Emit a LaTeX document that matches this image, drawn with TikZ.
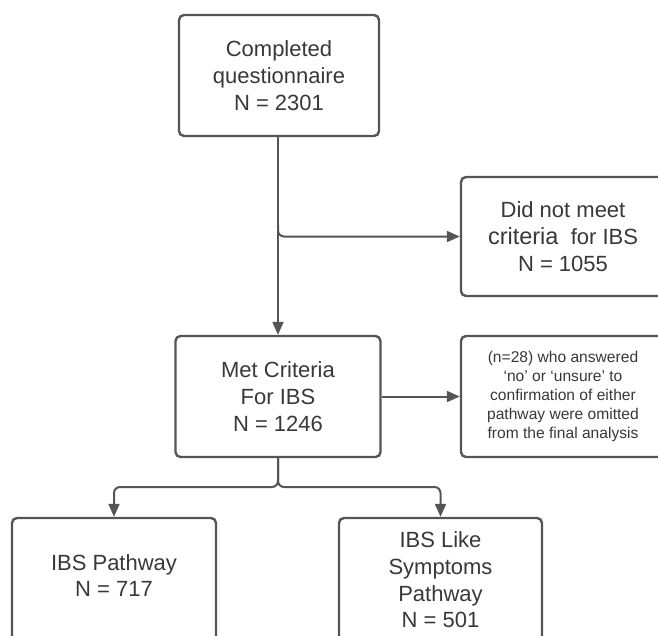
\documentclass[tikz,border=0pt]{standalone}
\usepackage{fontspec}
\setmainfont{Liberation Sans}
\usetikzlibrary{arrows.meta}
\definecolor{ln}{HTML}{555555}
\definecolor{tx}{HTML}{383838}
\begin{document}
\begin{tikzpicture}[x=1pt,y=-1pt,
  box/.style={draw=ln, line width=2.4pt, rounded corners=5pt, text=tx, align=center, inner sep=0pt},
  big/.style={font=\fontsize{22}{26.7}\selectfont},
  small/.style={font=\fontsize{15.6}{18.8}\selectfont},
  conn/.style={draw=ln, line width=2pt, -{Triangle[length=13pt,width=11pt]}},
  fork/.style={draw=ln, line width=2pt, rounded corners=6pt, -{Triangle[length=13pt,width=11pt]}}]
\useasboundingbox (0,0) rectangle (658,635);
\node[box,big,minimum width=200pt,minimum height=121pt] (q) at (279,75.5) {Completed\\questionnaire\\N = 2301};
\node[box,big,minimum width=204pt,minimum height=119pt] (d) at (563,236.5) {Did not meet\\{\fontsize{23.5}{26.7}\selectfont criteria}\ \ for IBS\\N = 1055};
\node[box,big,minimum width=205pt,minimum height=121pt] (m) at (278,396.5) {Met Criteria\\For IBS\\N = 1246};
\node[box,small,minimum width=204pt,minimum height=121pt] (o) at (563,396.5) {(n=28) who answered\\‘no’ or ‘unsure’ to\\confirmation of either\\pathway were omitted\\from the final analysis};
\node[box,big,minimum width=204pt,minimum height=124pt] (p) at (114,580) {\mbox{}\\[-20pt]IBS Pathway\\N = 717};
\node[box,big,minimum width=203pt,minimum height=124pt] (s) at (440.5,580) {IBS Like\\Symptoms\\Pathway\\N = 501};
\coordinate (j) at (m.north |- d.west);
\coordinate (f) at (278,487);
\draw[conn] (m.north |- q.south) -- (m.north);
\draw[conn,rounded corners=6pt] (j) ++(0,-12) -- (j) -- (d.west);
\draw[conn] (m.east) -- (o.west);
\draw[fork] (m.south) -- (f) -| (p.north);
\draw[fork] (m.south) -- (f) -| (s.north);
\end{tikzpicture}
\end{document}
